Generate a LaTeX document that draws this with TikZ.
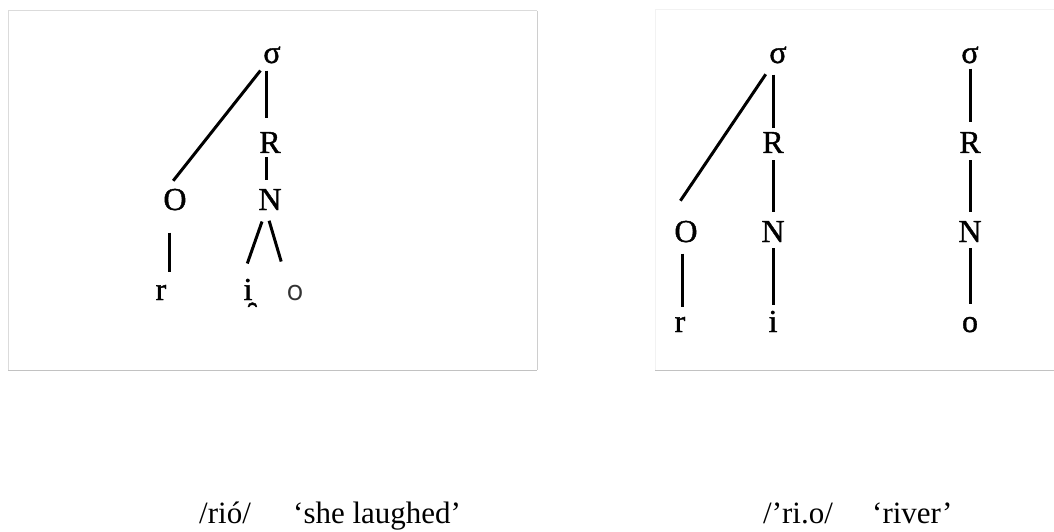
\documentclass[tikz,border=0pt]{standalone}
\usepackage{fontspec}
\setmainfont{Liberation Serif}
\newfontfamily\treefont[FakeBold=1.2]{Liberation Serif}
\newfontfamily\osans{Open Sans}
\usepackage{tikz}
\usepackage{xcolor}
\definecolor{boxline}{rgb}{0.86,0.86,0.86}
\definecolor{boxfaint}{rgb}{0.95,0.95,0.95}
\definecolor{boxbottom}{rgb}{0.76,0.76,0.76}
\definecolor{darkgraytext}{rgb}{0.2,0.2,0.2}
\tikzset{
  lbl/.style = {inner sep=0pt, anchor=base, font=\fontsize{32}{35}\treefont},
  gloss/.style = {inner sep=0pt, anchor=base west, font=\fontsize{31}{34}\selectfont},
  br/.style = {line width=3pt}
}

\begin{document}
\begin{tikzpicture}[x=1pt,y=-1pt]
  \useasboundingbox[fill=white] (0,0) rectangle (1054,532);

  % frames
  \draw[boxline, line width=1pt] (8,370) -- (8,11) -- (537,11);
  \draw[boxbottom!80!white, line width=1pt] (537,11) -- (537,370);
  \draw[boxbottom, line width=1pt] (8,370) -- (537,370);
  \draw[boxfaint, line width=1pt] (655,370) -- (655,10) -- (1054,10);
  \draw[boxbottom, line width=1pt] (655,370) -- (1054,370);

  % /rio/ one syllable
  \node (sA) at (272,63) [lbl] {σ};
  \node (RA) at (270,153) [lbl] {R};
  \node (OA) at (175,210) [lbl] {O};
  \node (NA) at (270,210) [lbl] {N};
  \node (rA) at (161,300) [lbl] {r};
  \node (iA) at (248,300) [lbl] {i̯};
  \node (oA) at (295,300) [lbl, font=\fontsize{28}{30}\osans, text=darkgraytext] {o};

  \draw[br, shorten <=9pt, shorten >=10pt] ([xshift=-6pt]sA.south) -- ([xshift=-8pt]OA.north);
  \draw[br, shorten <=7pt, shorten >=14pt] ([xshift=-6pt]sA.south) -- ([xshift=-4pt]RA.north);
  \draw[br, shorten <=4pt, shorten >=9pt] ([xshift=-4pt]RA.south) -- ([xshift=-4pt]NA.north);
  \draw[br, shorten <=22pt, shorten >=13pt] ([xshift=-6pt]OA.south) -- ([xshift=8pt]rA.north);
  \draw[br, shorten <=12pt, shorten >=16pt] ([xshift=-4pt]NA.south) -- ([xshift=-6pt]iA.north);
  \draw[br, shorten <=11pt, shorten >=24pt] ([xshift=-4pt]NA.south) -- ([xshift=-7pt]oA.north);

  % /ri.o/ two syllables
  \node (sB) at (778,63) [lbl] {σ};
  \node (RB) at (773,153) [lbl] {R};
  \node (OB) at (686,242) [lbl] {O};
  \node (NB) at (773,242) [lbl] {N};
  \node (rB) at (680,332) [lbl] {r};
  \node (iB) at (773,332) [lbl] {i};

  \node (sC) at (970,63) [lbl] {σ};
  \node (RC) at (970,153) [lbl] {R};
  \node (NC) at (970,242) [lbl] {N};
  \node (oC) at (970,332) [lbl] {o};

  \draw[br, shorten <=13pt, shorten >=24pt] ([xshift=-5pt]sB.south) -- ([xshift=-19pt]OB.north);
  \draw[br, shorten <=11pt, shorten >=4pt] ([xshift=-5pt]sB.south) -- (RB.north);
  \draw[br, shorten <=7pt, shorten >=9pt] (RB.south) -- (NB.north);
  \draw[br, shorten <=6pt, shorten >=6pt] (NB.south) -- (iB.north);
  \draw[br, shorten <=11pt, shorten >=10pt] ([xshift=-4pt]OB.south) -- ([xshift=2pt]rB.north);

  \draw[br, shorten <=5pt, shorten >=10pt] (sC.south) -- (RC.north);
  \draw[br, shorten <=7pt, shorten >=9pt] (RC.south) -- (NC.north);
  \draw[br, shorten <=6pt, shorten >=13pt] (NC.south) -- (oC.north);

  % glosses
  \node (gA) at (199,523) [gloss] {/rió/};
  \node (tA) at (293,523) [gloss] {‘she laughed’};
  \node (gB) at (763,523) [gloss] {/’ri.o/};
  \node (tB) at (872,523) [gloss] {‘river’};
\end{tikzpicture}
\end{document}
